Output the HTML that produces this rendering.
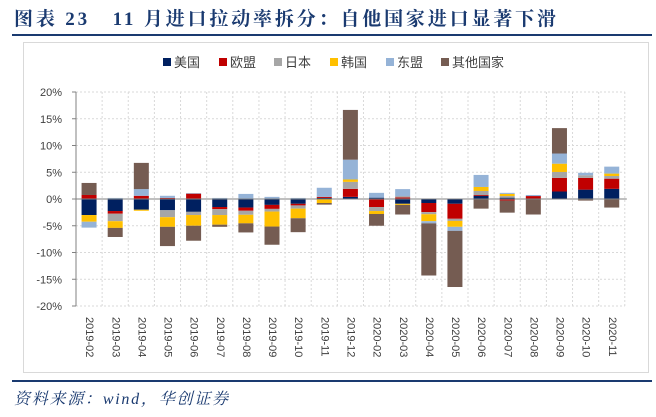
<!DOCTYPE html>
<html><head><meta charset="utf-8">
<style>
body{margin:0;width:656px;height:417px;background:#fff;overflow:hidden;font-family:"Liberation Sans","Noto Sans CJK SC",sans-serif;}
svg{display:block}
</style></head>
<body>
<svg width="656" height="417">
<text x="14" y="25" textLength="542" lengthAdjust="spacing" style="white-space:pre" font-family="'Liberation Serif','Noto Serif CJK SC',serif" font-weight="bold" font-size="19" fill="#1a3a70">图表 23   11 月进口拉动率拆分：自他国家进口显著下滑</text>
<rect x="12" y="34" width="640" height="2" fill="#1a3a70"/>
<rect x="23.5" y="42.5" width="625" height="330" fill="none" stroke="#d9d9d9"/>
<g id="legend"></g>
<g id="grid"></g>
<g id="bars"></g>
<g id="axes"></g>
<rect x="12" y="380" width="640" height="2" fill="#1a3a70"/>
<text x="14" y="404" textLength="214" lengthAdjust="spacing" font-family="'Liberation Serif','Noto Serif CJK SC',serif" font-style="italic" font-size="16" fill="#1a3a70">资料来源：wind，华创证券</text>
</svg>
<script>
const categories=["2019-02","2019-03","2019-04","2019-05","2019-06","2019-07","2019-08","2019-09","2019-10","2019-11","2019-12","2020-02","2020-03","2020-04","2020-05","2020-06","2020-07","2020-08","2020-09","2020-10","2020-11"];
const seriesNames=["美国","欧盟","日本","韩国","东盟","其他国家"];
const seriesColors=["#002060","#c00000","#a6a6a6","#ffc000","#95b3d7","#755c52"];
const usa=[-3,-2.25,-2,-2.1,-2.4,-1.5,-1.6,-1.1,-0.9,0.2,0.4,0.25,-0.9,-0.75,-0.9,0.6,0.25,0,1.4,1.75,1.9];
const eu=[0.75,-0.5,0.6,0.2,1.0,-0.4,-0.6,-0.75,-0.3,0.2,1.5,-1.5,0.3,-1.7,-2.8,0.15,-0.3,0.55,2.55,2.2,1.9];
const japan=[0,-1.4,0,-1.3,-0.6,-1.1,-0.75,-0.5,-0.6,0,1.3,-0.75,0.25,-0.4,-0.4,0.75,0.3,0,1.1,0.5,0.5];
const korea=[-1.25,-1.25,-0.2,-1.8,-2,-1.8,-1.6,-2.8,-1.8,-0.75,0.45,-0.55,-0.2,-1.3,-1.1,0.75,0.4,0,1.55,0,0.45];
const asean=[-1.1,0.2,1.25,0.4,0.1,0.2,0.95,0.4,0.2,1.7,3.7,0.9,1.3,-0.4,-0.75,2.25,0.2,0.2,1.9,0.45,1.3];
const other=[2.25,-1.7,4.9,-3.6,-2.8,-0.4,-1.7,-3.4,-2.6,-0.3,9.3,-2.2,-1.8,-9.75,-10.5,-1.8,-2.25,-2.9,4.75,-0.3,-1.6];
const yTicks=[20,15,10,5,0,-5,-10,-15,-20];
const series=[usa,eu,japan,korea,asean,other];
const NS="http://www.w3.org/2000/svg";
const L=76,R=624.8,T=92,B=306,yMin=-20,yMax=20;
const y=v=>T+(yMax-v)/(yMax-yMin)*(B-T);
const step=(R-L)/categories.length;
const xc=i=>L+step*(i+0.5);
function mk(tag,attrs,parent){const e=document.createElementNS(NS,tag);for(const k in attrs)e.setAttribute(k,attrs[k]);parent.appendChild(e);return e;}
const grid=document.getElementById('grid'),bars=document.getElementById('bars'),axes=document.getElementById('axes'),legend=document.getElementById('legend');
yTicks.forEach(t=>{
  if(t!==0){const g=mk('line',{x1:L,x2:R,y1:y(t),y2:y(t),stroke:'#d9d9d9','stroke-dasharray':'2,2'},grid);
  
  }
  const tl=mk('text',{x:62,y:y(t)+4,'text-anchor':'end','font-size':11,fill:'#404040'},axes);
  tl.textContent=t+'%';
  
  
  const tk=mk('line',{x1:L-4,x2:L,y1:y(t),y2:y(t),stroke:'#808080'},axes);
  
  
});
for(let i=1;i<=categories.length;i++){
  const g=mk('line',{x1:L+step*i,x2:L+step*i,y1:T,y2:B,stroke:'#d9d9d9','stroke-dasharray':'2,2'},grid);
  
  
}
const bw=15;
categories.forEach((c,i)=>{
  let pos=0,neg=0;
  series.forEach((s,k)=>{
    const v=s[i];if(!v)return;
    let y0,y1;
    if(v>0){y0=y(pos+v);y1=y(pos);pos+=v;}else{y0=y(neg);y1=y(neg+v);neg+=v;}
    const r=mk('rect',{x:xc(i)-bw/2,y:y0,width:bw,height:Math.max(0.5,y1-y0),fill:seriesColors[k]},bars);
    
    
  });
  const tx=xc(i),ty=317;
  const lb=mk('text',{x:tx,y:ty,transform:`rotate(90 ${tx} ${ty})`,'font-size':11,fill:'#404040','dominant-baseline':'middle'},axes);
  lb.textContent=c;
  
  
});
const ya=mk('line',{x1:L,x2:L,y1:T,y2:B,stroke:'#808080'},axes);


const xa=mk('line',{x1:L,x2:R+2,y1:y(0),y2:y(0),stroke:'#808080'},axes);


const lx=[163,219,274,330,386,441];
seriesNames.forEach((n,k)=>{
  const sq=mk('rect',{x:lx[k],y:58,width:8,height:8,fill:seriesColors[k]},legend);
  
  
  const t=mk('text',{x:lx[k]+11,y:67,'font-size':13,fill:'#404040'},legend);
  t.textContent=n;
  
  
});
</script>
</body></html>
